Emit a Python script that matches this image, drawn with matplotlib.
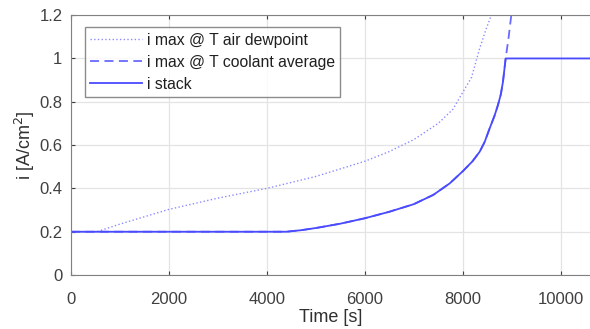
import matplotlib
matplotlib.use("Agg")
import matplotlib.pyplot as plt
import numpy as np

plt.rcParams['font.family'] = ['Liberation Sans', 'DejaVu Sans']

# dotted: i max @ T air dewpoint
t_dew = [0, 0, 530, 1000, 2000, 3000, 4000, 5000, 6000, 6500, 7000, 7500, 7800, 8006, 8180, 8347, 8470, 8585]
i_dew = [0, 0.2, 0.2, 0.235, 0.303, 0.355, 0.40, 0.455, 0.525, 0.57, 0.625, 0.70, 0.765, 0.845, 0.912, 1.046, 1.13, 1.2]

# dashed: i max @ T coolant average
t_cool = [0, 0, 1000, 2000, 3000, 4000, 4400, 4700, 5000, 5500, 6000, 6500, 7000, 7400, 7735, 8006, 8200, 8347, 8450, 8551, 8650, 8721, 8780, 8823, 8878, 8940, 8993]
i_cool = [0, 0.2, 0.2, 0.2, 0.2, 0.2, 0.2, 0.207, 0.217, 0.237, 0.262, 0.292, 0.327, 0.37, 0.423, 0.48, 0.525, 0.569, 0.615, 0.677, 0.735, 0.785, 0.835, 0.892, 1.0, 1.1, 1.2]

# solid: i stack
t_stack = [0, 0, 1000, 2000, 3000, 4000, 4400, 4700, 5000, 5500, 6000, 6500, 7000, 7400, 7735, 8006, 8200, 8347, 8450, 8551, 8650, 8721, 8780, 8823, 8878, 10700]
i_stack = [0, 0.2, 0.2, 0.2, 0.2, 0.2, 0.2, 0.207, 0.217, 0.237, 0.262, 0.292, 0.327, 0.37, 0.423, 0.48, 0.525, 0.569, 0.615, 0.677, 0.735, 0.785, 0.835, 0.892, 1.0, 1.0]

labels = ['i max @ T air dewpoint', 'i max @ T coolant average', 'i stack']

fig = plt.figure(figsize=(5.9, 3.29), dpi=100)
ax = fig.add_axes([0.120, 0.164, 0.88, 0.790])

ax.plot(t_dew, i_dew, linestyle=':', color='#8c8cff', lw=1.0, label=labels[0])
ax.plot(t_cool, i_cool, linestyle=(0, (5, 3)), color='#6a6aff', lw=1.3, label=labels[1])
ax.plot(t_stack, i_stack, linestyle='-', color='#4a4aff', lw=1.3, label=labels[2])

ax.set_xlim(0, 10600)
ax.set_ylim(0, 1.2)
ax.set_xticks([0, 2000, 4000, 6000, 8000, 10000])
ax.set_yticks([0, 0.2, 0.4, 0.6, 0.8, 1.0, 1.2])
ax.set_yticklabels(['0', '0.2', '0.4', '0.6', '0.8', '1', '1.2'])
ax.grid(True, color='#e4e4e4', lw=0.9)
ax.set_axisbelow(True)
ax.tick_params(direction='in', top=True, right=False, labelsize=12, colors='#404040', length=3)
ax.tick_params(axis='x', pad=12)
ax.tick_params(axis='y', pad=6)
for s in ['left', 'bottom', 'top']:
    ax.spines[s].set_color('#808080')
ax.spines['right'].set_visible(False)

ax.set_xlabel('Time [s]', fontsize=13, color='#303030', labelpad=2)
ax.set_ylabel('i [A/cm$^2$]', fontsize=13, color='#303030', labelpad=2)

leg = ax.legend(loc='upper left', bbox_to_anchor=(0.027, 0.954), fontsize=11.3, frameon=True,
                fancybox=False, edgecolor='#707070', handlelength=3.3, borderpad=0.35,
                labelspacing=0.45, handletextpad=0.3, borderaxespad=0)
leg.get_frame().set_linewidth(1.0)
for t in leg.get_texts():
    t.set_color('#202020')

fig.savefig('out.png', dpi=100)
